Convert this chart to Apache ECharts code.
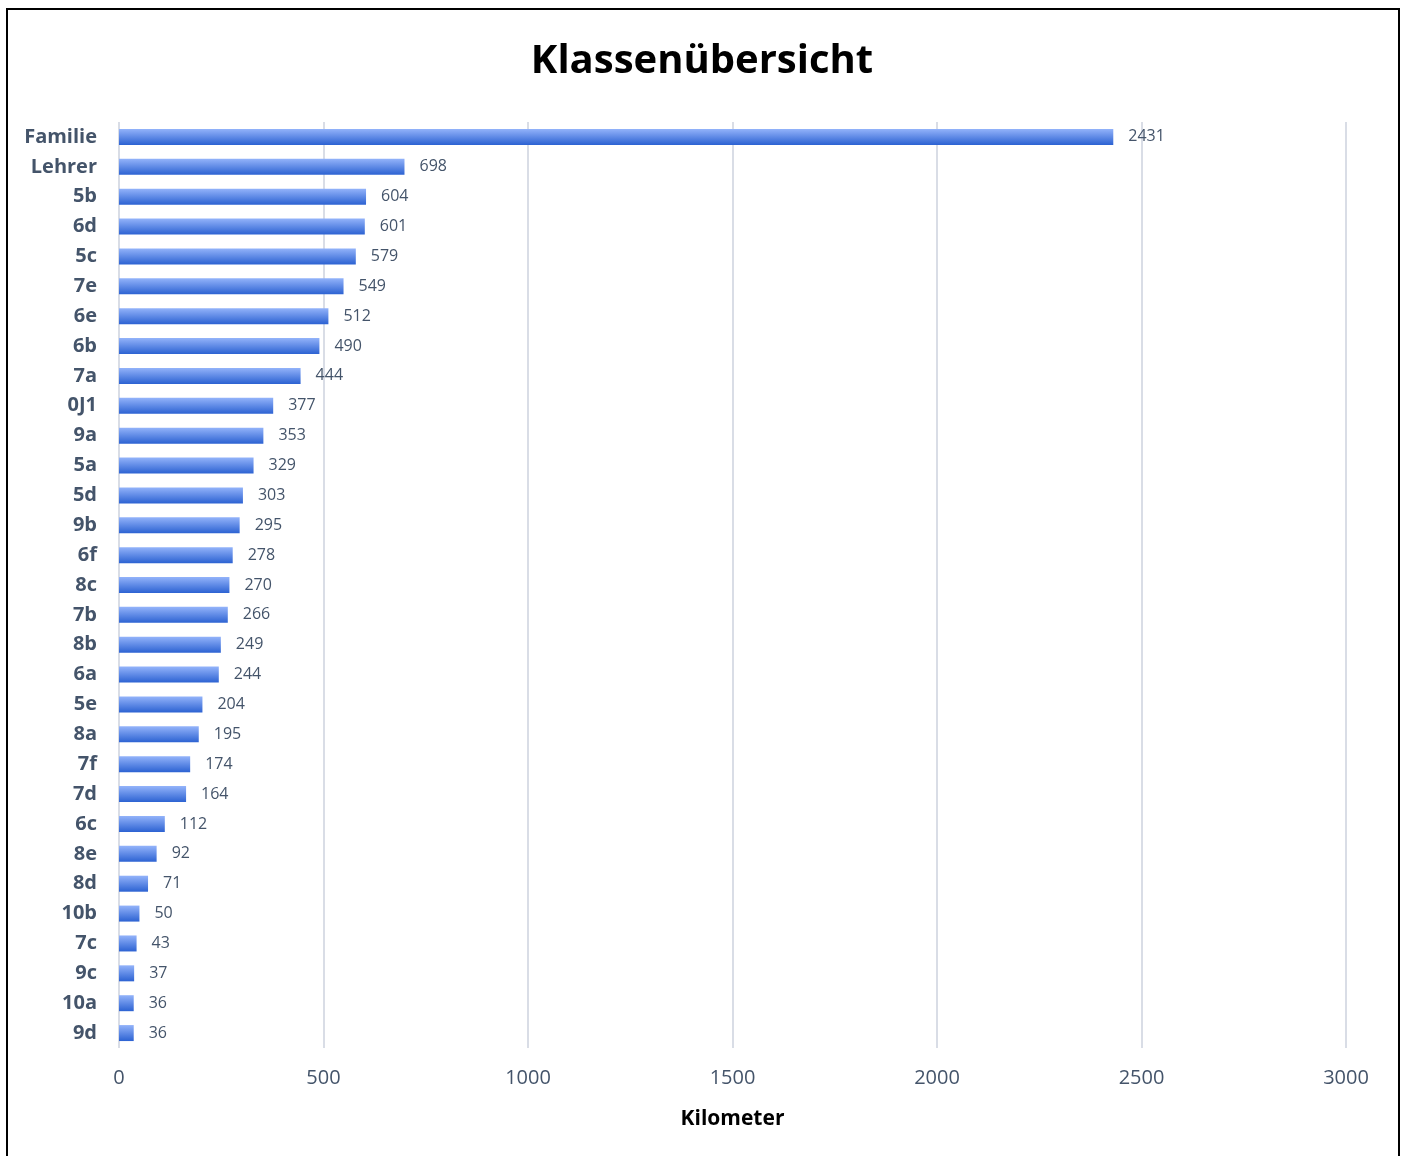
<!DOCTYPE html>
<html>
<head>
<meta charset="utf-8">
<script src="https://cdn.jsdelivr.net/npm/echarts@6/dist/echarts.min.js"></script>
<style>
  html, body { margin: 0; padding: 0; background: #fff; }
  #frame { position: absolute; left: 6px; top: 8px; width: 1394px; height: 1160px; border: 2px solid #000; box-sizing: border-box; }
  #chart { position: absolute; left: 0; top: 0; width: 1404px; height: 1156px; }
</style>
</head>
<body>
<div id="chart"></div>
<div id="frame"></div>
<script>
// Klassen, von oben nach unten
var klassen = ['Familie','Lehrer','5b','6d','5c','7e','6e','6b','7a','0J1','9a','5a','5d','9b','6f','8c','7b','8b','6a','5e','8a','7f','7d','6c','8e','8d','10b','7c','9c','10a','9d'];
var kilometer = [2431,698,604,601,579,549,512,490,444,377,353,329,303,295,278,270,266,249,244,204,195,174,164,112,92,71,50,43,37,36,36];
var xTicks = [0, 500, 1000, 1500, 2000, 2500, 3000];

var chart = echarts.init(document.getElementById('chart'));
var option = {
  animation: false,
  title: {
    text: 'Klassenübersicht',
    left: 'center',
    top: 37,
    textStyle: { fontFamily: 'Open Sans', fontWeight: 'bold', fontSize: 40, color: '#000' }
  },
  grid: { left: 119, right: 58, top: 122, bottom: 108 },
  xAxis: {
    type: 'value',
    min: xTicks[0],
    max: xTicks[xTicks.length - 1],
    interval: 500,
    name: 'Kilometer',
    nameLocation: 'middle',
    nameGap: 61,
    nameTextStyle: { fontFamily: 'Open Sans', fontWeight: 'bold', fontSize: 21, color: '#000' },
    axisLine: { show: false },
    axisTick: { show: false },
    axisLabel: {
      margin: 20, fontFamily: 'Open Sans', fontSize: 20, color: '#44546a',
      formatter: function (v) { return String(v); }
    },
    splitLine: { lineStyle: { color: '#d9dde6', width: 2 } }
  },
  yAxis: {
    type: 'category',
    inverse: true,
    data: klassen,
    axisLine: { show: false },
    axisTick: { show: false },
    axisLabel: { margin: 22, fontFamily: 'Open Sans', fontWeight: 'bold', fontSize: 20, color: '#44546a' }
  },
  series: [{
    type: 'bar',
    data: kilometer,
    barWidth: 16,
    itemStyle: {
      color: new echarts.graphic.LinearGradient(0, 0, 0, 1, [
        { offset: 0, color: '#93b3fa' },
        { offset: 1, color: '#2c62d2' }
      ])
    },
    label: {
      show: true,
      position: 'right',
      distance: 15,
      fontFamily: 'Open Sans',
      fontSize: 16,
      color: '#44546a'
    }
  }]
};
chart.setOption(option);
</script>
</body>
</html>
